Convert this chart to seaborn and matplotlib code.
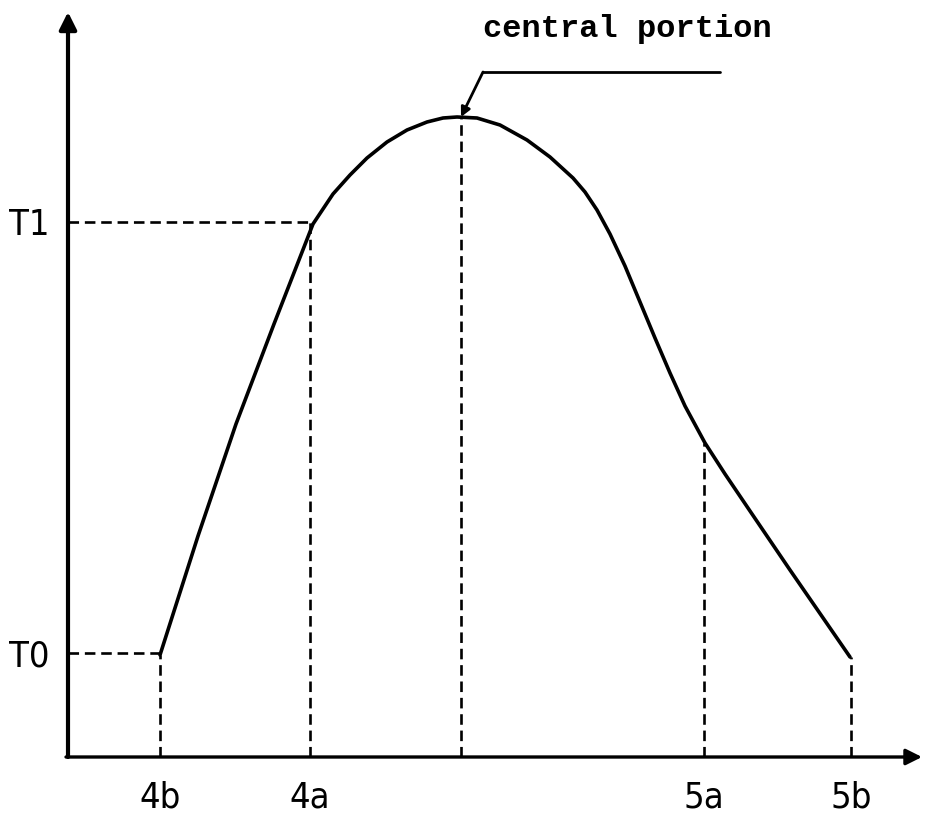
import matplotlib
matplotlib.use("Agg")
import matplotlib.pyplot as plt
import seaborn as sns
import pandas as pd

# ---- data ----
curve_x = [9.2, 13.0, 16.8, 20.6, 24.5, 26.5, 28.2, 29.9, 31.9, 33.9, 35.9,
           37.5, 38.9, 40.9, 43.2, 45.9, 48.2, 50.5, 51.7, 52.9, 54.2, 55.7,
           57.2, 58.7, 60.2, 61.7, 63.7, 65.7, 68.2, 72.2, 78.2]
curve_y = [10.2, 22.1, 33.3, 43.3, 53.3, 56.3, 58.2, 59.9, 61.5, 62.7, 63.5,
           63.9, 64.0, 63.9, 63.2, 61.7, 60.0, 57.9, 56.5, 54.7, 52.3, 49.1,
           45.5, 41.9, 38.4, 35.1, 31.4, 28.3, 24.6, 18.7, 10.0]

x_marks = [9.2, 24.2, 39.3, 63.6, 78.3]          # 4b, 4a, centre, 5a, 5b
x_mark_tops = [10.2, 53.5, 64.0, 31.4, 10.0]
x_labels = ["4b", "4a", "", "5a", "5b"]

y_marks = [10.4, 53.5]                            # T0, T1
y_mark_ends = [9.2, 24.2]
y_labels = ["T0", "T1"]

annotation_text = "central portion"
peak_point = (39.3, 64.0)
leader_knee = (41.5, 68.5)
leader_end = (65.2, 68.5)

# ---- figure ----
sns.set_theme(style="white")
plt.rcParams["font.family"] = ["DejaVu Sans"]

W, H = 926, 821
fig = plt.figure(figsize=(W / 100, H / 100), dpi=100)
fig.patch.set_facecolor("white")
left_px, axis_y_px, right_px, top_px = 68, 757, 922, 12
ax = fig.add_axes([left_px / W, (H - axis_y_px) / H,
                   (right_px - left_px) / W, (axis_y_px - top_px) / H])
ax.set_xlim(0, (right_px - left_px) / 10)
ax.set_ylim(0, (axis_y_px - top_px) / 10)
ax.set_facecolor("white")
for s in ax.spines.values():
    s.set_visible(False)

# axes with arrow heads
xmax = ax.get_xlim()[1]
ymax = ax.get_ylim()[1]
ax.annotate("", xy=(0, ymax), xytext=(0, 0), annotation_clip=False,
            arrowprops=dict(arrowstyle="-|>", lw=3.0, color="black",
                            mutation_scale=26, shrinkA=0, shrinkB=0))
ax.annotate("", xy=(xmax, 0), xytext=(-0.2, 0), annotation_clip=False,
            arrowprops=dict(arrowstyle="-|>", lw=2.4, color="black",
                            mutation_scale=24, shrinkA=0, shrinkB=0))

# main curve
df = pd.DataFrame({"x": curve_x, "y": curve_y})
sns.lineplot(data=df, x="x", y="y", sort=False, estimator=None, ax=ax,
             color="black", linewidth=2.6)

# dashed guide lines
dash = (0, (4, 2.2))
for xm, top in zip(x_marks, x_mark_tops):
    ax.plot([xm, xm], [0, top], color="black", lw=1.9, linestyle=dash)
for ym, end in zip(y_marks, y_mark_ends):
    ax.plot([0, end], [ym, ym], color="black", lw=1.9, linestyle=dash)

# leader line + label
ax.plot([leader_knee[0], leader_end[0]], [leader_knee[1], leader_end[1]],
        color="black", lw=2.0, clip_on=False)
ax.annotate("", xy=peak_point, xytext=leader_knee, annotation_clip=False,
            arrowprops=dict(arrowstyle="-|>", lw=2.0, color="black",
                            mutation_scale=14, shrinkA=0, shrinkB=0))
ax.text(leader_knee[0], 72.0, annotation_text, ha="left", va="baseline",
        fontsize=23, fontweight="bold",
        family=["Liberation Mono", "DejaVu Sans Mono"], color="black")

# ticks as labels only
ax.set_xticks(x_marks)
ax.set_xticklabels(x_labels)
ax.set_yticks(y_marks)
ax.set_yticklabels(y_labels)
ax.tick_params(axis="both", length=0, labelsize=26, colors="black")
ax.tick_params(axis="x", pad=17)
ax.tick_params(axis="y", pad=13)
for lab in ax.get_xticklabels() + ax.get_yticklabels():
    lab.set_fontstretch("condensed")
ax.set_xlabel("")
ax.set_ylabel("")
ax.grid(False)

fig.savefig("out.png", dpi=100, facecolor="white")
